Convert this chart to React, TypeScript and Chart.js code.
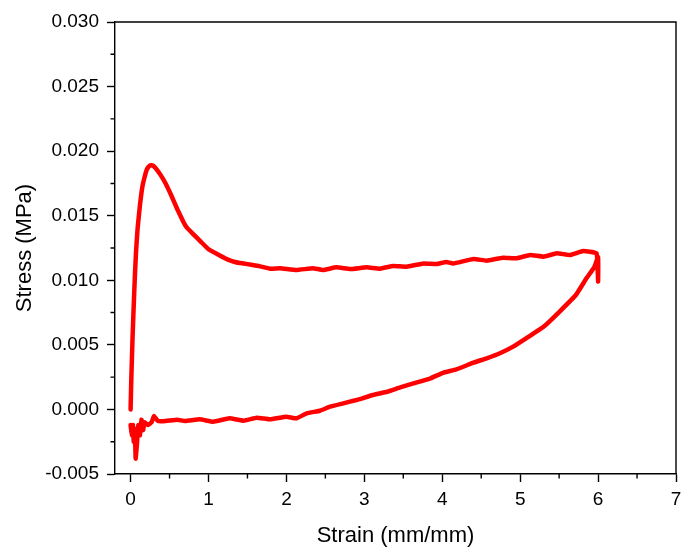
import React, { useEffect, useRef } from "react";
import { Chart, registerables } from "chart.js";

Chart.register(...registerables);

// Loading branch (strain, stress)
const loadStrain = [
  0.0, 0.01, 0.025, 0.04, 0.055, 0.07, 0.09, 0.12, 0.15, 0.18, 0.21, 0.25, 0.28, 0.32, 0.38, 0.45, 0.52, 0.6, 0.68,
  0.72, 0.8, 0.9, 1.0, 1.06, 1.15, 1.25, 1.35, 1.45, 1.55, 1.65, 1.79, 1.92, 2.13, 2.34, 2.47, 2.64, 2.82, 3.03, 3.2,
  3.37, 3.54, 3.76, 3.93, 4.05, 4.14, 4.4, 4.57, 4.78, 4.95, 5.13, 5.3, 5.47, 5.64, 5.81, 5.98, 6.0, 6.0,
];
const loadStress = [
  0.0, 0.0025, 0.0055, 0.008, 0.0103, 0.0122, 0.014, 0.0158, 0.0172, 0.018, 0.0186, 0.0189, 0.0189, 0.0187, 0.0182,
  0.0175, 0.0166, 0.0155, 0.0145, 0.0141, 0.0136, 0.013, 0.0124, 0.0122, 0.0119, 0.0116, 0.0114, 0.0113, 0.0112,
  0.0111, 0.0109, 0.01093, 0.0108, 0.01093, 0.0108, 0.011, 0.01087, 0.011, 0.0109, 0.01111, 0.01105, 0.0113,
  0.01126, 0.01142, 0.0113, 0.01165, 0.01152, 0.01175, 0.0117, 0.01196, 0.01183, 0.01209, 0.01196, 0.01227,
  0.01209, 0.0099, 0.0118,
];

// Unloading branch (strain, stress)
const unloadStrain = [
  5.95, 5.85, 5.72, 5.51, 5.3, 5.1, 4.91, 4.74, 4.57, 4.4, 4.18, 4.01, 3.85, 3.63, 3.46, 3.29, 3.11, 2.9, 2.73, 2.56,
  2.43, 2.26, 2.13, 2.0, 1.79, 1.62, 1.45, 1.27, 1.06, 0.89, 0.7, 0.6, 0.45, 0.35, 0.3, 0.27, 0.22, 0.18, 0.16, 0.14,
  0.12, 0.1, 0.08, 0.065, 0.055, 0.04, 0.03, 0.02, 0.01, 0.0,
];
const unloadStress = [
  0.011, 0.01015, 0.0089, 0.0076, 0.0064, 0.0056, 0.00486, 0.00435, 0.00396, 0.00362, 0.0031, 0.00284, 0.00241,
  0.00202, 0.00171, 0.00137, 0.00112, 0.00073, 0.00047, 0.00021, -0.0001, -0.0003, -0.00069, -0.00056, -0.00077,
  -0.00064, -0.00087, -0.00069, -0.00095, -0.00077, -0.0009, -0.0008, -0.0009, -0.0009, -0.0005, -0.001, -0.0012,
  -0.001, -0.0016, -0.0008, -0.002, -0.0012, -0.0028, -0.0038, -0.0015, -0.0025, -0.0012, -0.002, -0.0017, -0.0012,
];

const xMin = -0.2;
const xMax = 7;
const yMin = -0.005;
const yMax = 0.03;
const xMinorTicks = [0.5, 1.5, 2.5, 3.5, 4.5, 5.5, 6.5];
const yMinorTicks = [-0.0025, 0.0025, 0.0075, 0.0125, 0.0175, 0.0225, 0.0275];

const FONT = "'Liberation Sans', Arial, sans-serif";

const framePlugin = {
  id: "frameAndMinor",
  afterDraw(chart: any) {
    const { ctx, chartArea, scales } = chart;
    const x = scales.x;
    const y = scales.y;
    ctx.save();
    ctx.strokeStyle = "#000";
    ctx.lineWidth = 1.4;
    ctx.beginPath();
    for (const v of xMinorTicks) {
      const px = x.getPixelForValue(v);
      ctx.moveTo(px, chartArea.bottom);
      ctx.lineTo(px, chartArea.bottom + 4.5);
    }
    for (const v of yMinorTicks) {
      const py = y.getPixelForValue(v);
      ctx.moveTo(chartArea.left, py);
      ctx.lineTo(chartArea.left - 4.5, py);
    }
    ctx.moveTo(chartArea.left, chartArea.top);
    ctx.lineTo(chartArea.right, chartArea.top);
    ctx.lineTo(chartArea.right, chartArea.bottom);
    ctx.stroke();
    ctx.restore();
  },
};

export default function App() {
  const ref = useRef<HTMLCanvasElement | null>(null);
  useEffect(() => {
    if (!ref.current) return;
    const pts: { x: number; y: number }[] = [];
    loadStrain.forEach((s, i) => pts.push({ x: s, y: loadStress[i] }));
    unloadStrain.forEach((s, i) => pts.push({ x: s, y: unloadStress[i] }));
    const chart = new Chart(ref.current, {
      type: "scatter",
      data: {
        datasets: [
          {
            data: pts,
            showLine: true,
            borderColor: "#ff0000",
            backgroundColor: "#ff0000",
            borderWidth: 4.5,
            borderJoinStyle: "round",
            borderCapStyle: "round",
            pointRadius: 0,
            tension: 0.1,
          },
        ],
      },
      options: {
        animation: false,
        responsive: false,
        maintainAspectRatio: false,
        layout: { padding: { top: 22, right: 5, left: 0, bottom: 0 } },
        plugins: { legend: { display: false }, tooltip: { enabled: false } },
        scales: {
          x: {
            type: "linear",
            min: xMin,
            max: xMax,
            afterFit: (s: any) => {
              s.height = 73;
              s.paddingLeft = 0;
              s.paddingRight = 0;
            },
            border: { display: true, color: "#000", width: 1.4 },
            grid: { drawOnChartArea: false, drawTicks: true, tickLength: 8, tickColor: "#000", tickWidth: 1.4 },
            ticks: {
              stepSize: 1,
              includeBounds: false,
              padding: 6,
              color: "#000",
              font: { family: FONT, size: 19 },
              maxRotation: 0,
              callback: (v: any) => String(v),
            },
            title: {
              display: true,
              text: "Strain (mm/mm)",
              color: "#000",
              font: { family: FONT, size: 22 },
              padding: { top: 0, bottom: -2 },
            },
          },
          y: {
            type: "linear",
            min: yMin,
            max: yMax,
            afterFit: (s: any) => {
              s.width = 115;
              s.paddingTop = 0;
              s.paddingBottom = 0;
            },
            border: { display: true, color: "#000", width: 1.4 },
            grid: { drawOnChartArea: false, drawTicks: true, tickLength: 8, tickColor: "#000", tickWidth: 1.4 },
            ticks: {
              stepSize: 0.005,
              padding: 8,
              color: "#000",
              font: { family: FONT, size: 19 },
              callback: (v: any) => {
                const n = Math.abs(Number(v)) < 1e-10 ? 0 : Number(v);
                return n.toFixed(3);
              },
            },
            title: {
              display: true,
              text: "Stress (MPa)",
              color: "#000",
              font: { family: FONT, size: 22 },
              padding: { top: 12, bottom: 0 },
            },
          },
        },
      },
      plugins: [framePlugin],
    });
    return () => chart.destroy();
  }, []);
  return (
    <div style={{ position: "absolute", left: 0, top: 0, width: 681, height: 547, background: "#fff" }}>
      <canvas ref={ref} width={681} height={547} style={{ display: "block" }} />
    </div>
  );
}
